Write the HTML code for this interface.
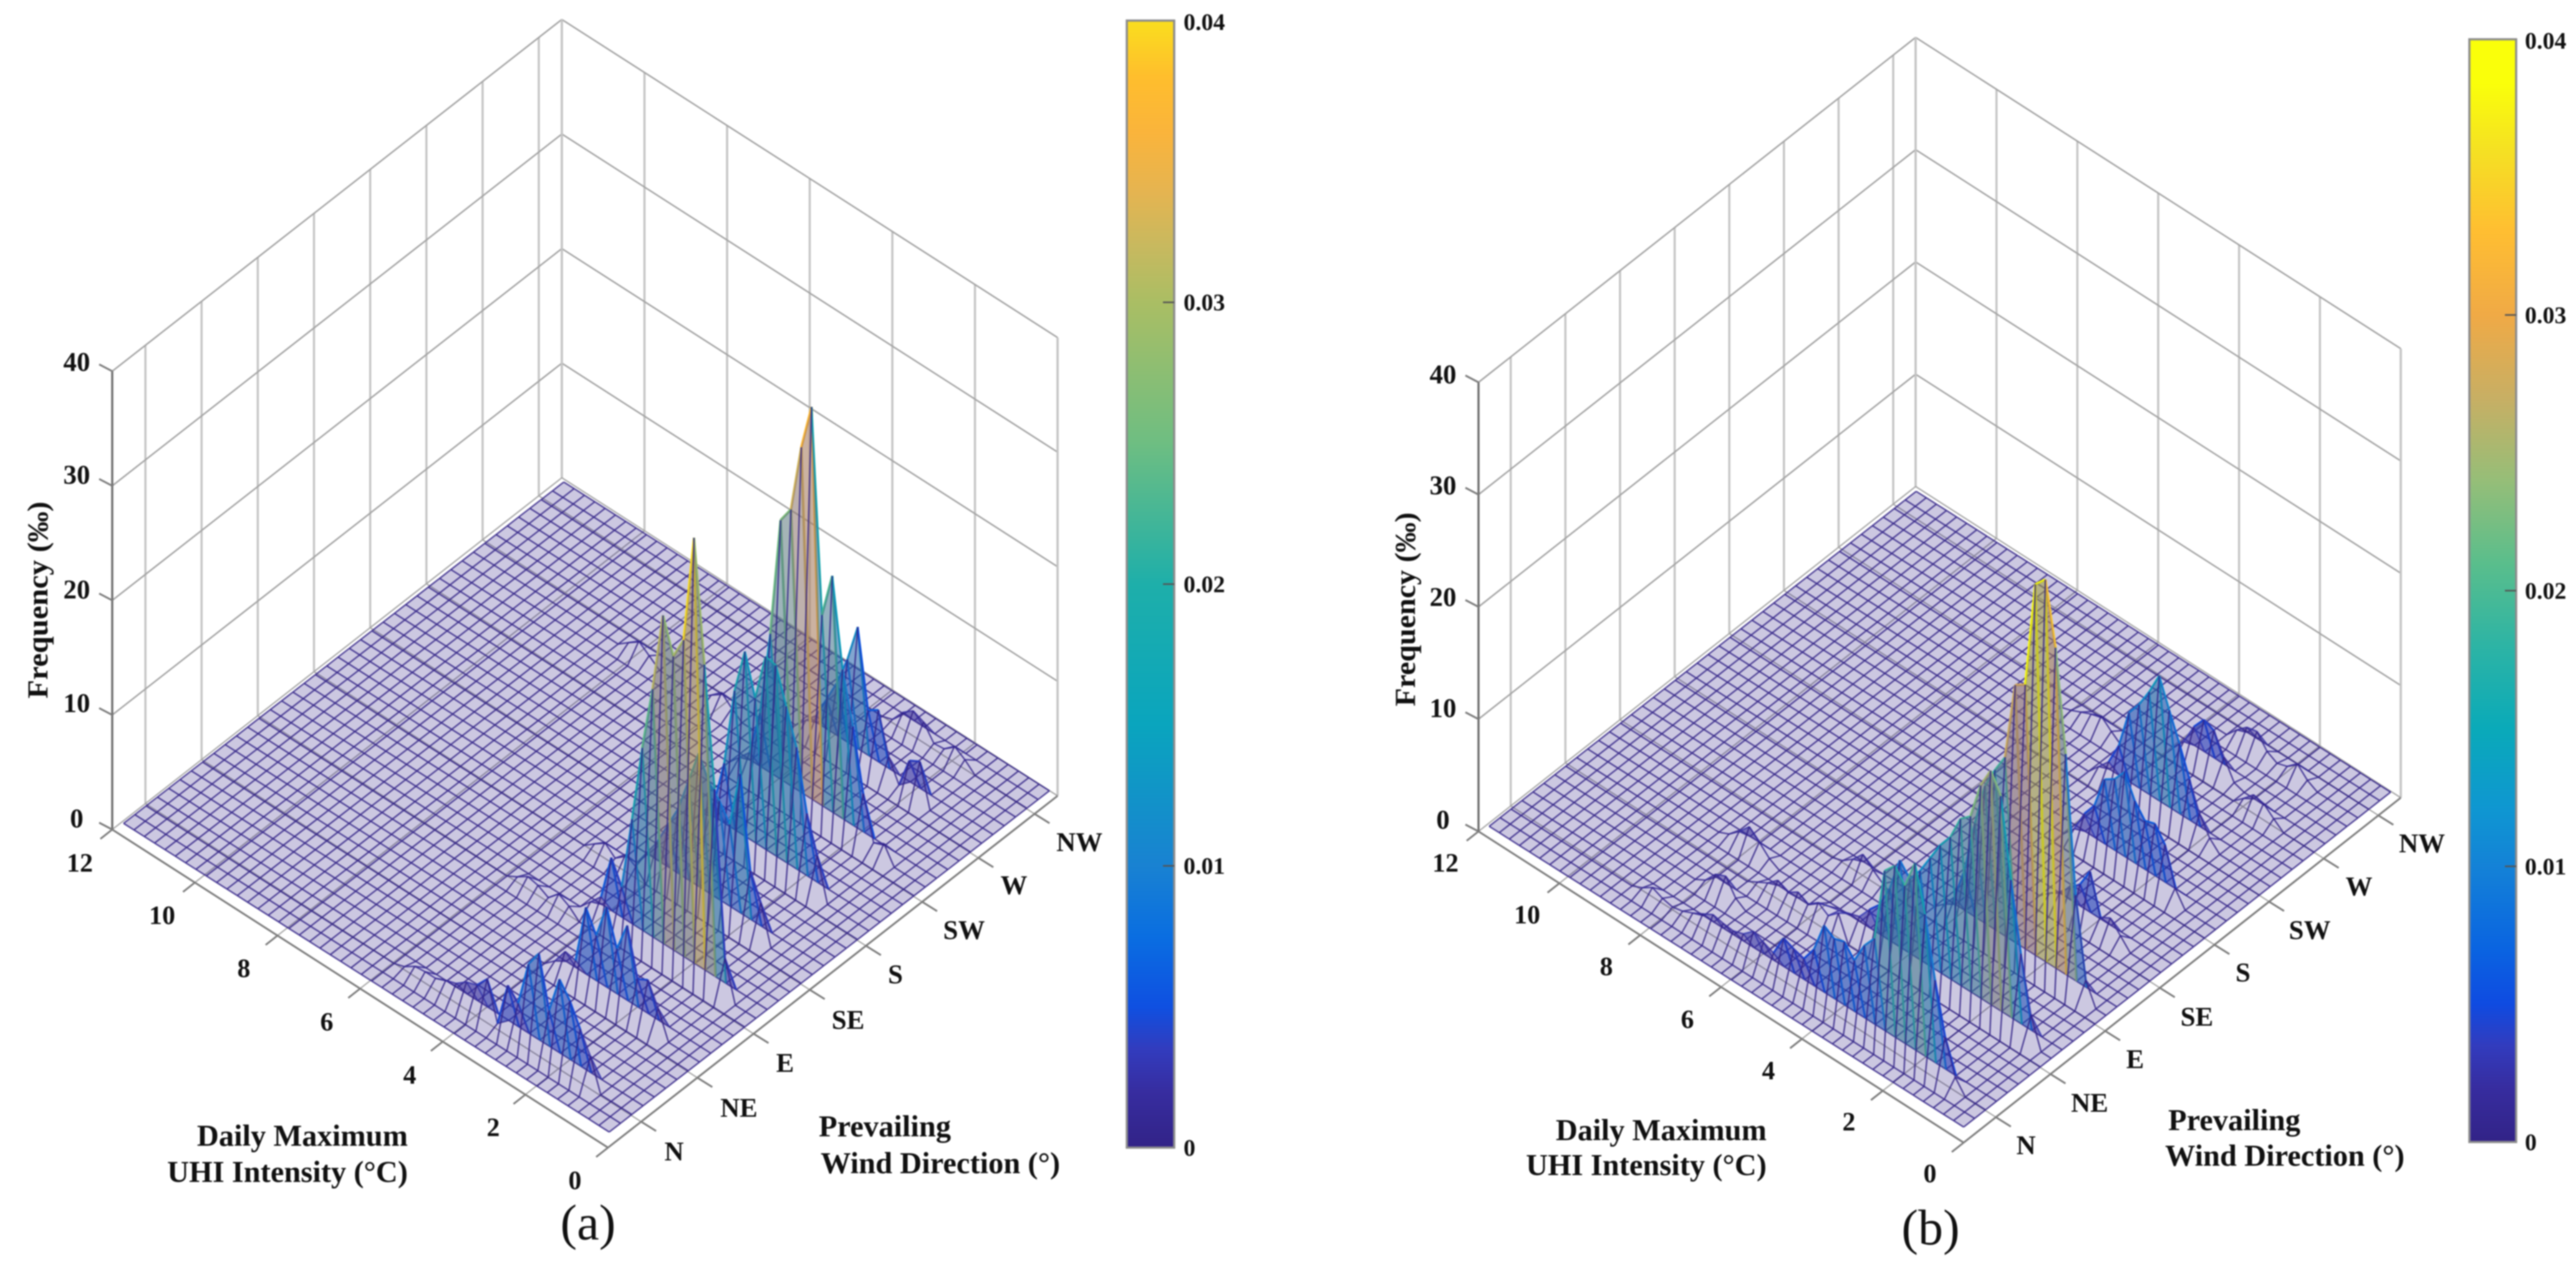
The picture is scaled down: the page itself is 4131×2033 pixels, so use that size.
<!DOCTYPE html>
<html lang="en">
<head>
<meta charset="utf-8">
<title>UHI intensity and wind direction frequency surfaces</title>
<style>
html,body{margin:0;padding:0;background:#fff;width:4131px;height:2033px;overflow:hidden}
svg{display:block;filter:blur(1px)}
text{font-family:"Liberation Serif",serif;fill:#111}
.b{font-weight:bold}
</style>
</head>
<body>
<svg id="chart" xmlns="http://www.w3.org/2000/svg" width="4131" height="2033" viewBox="0 0 4131 2033">
<rect width="4131" height="2033" fill="#fff"/>
<g id="panel-a"></g>
<g id="panel-b"></g>
<g>
<text class="b" font-size="47" text-anchor="middle" textLength="316" lengthAdjust="spacingAndGlyphs" transform="translate(76,962) rotate(-90)">Frequency (‰)</text>
<text class="b" font-size="48.5" text-anchor="end" x="654" y="1837">Daily Maximum</text>
<text class="b" font-size="48.5" text-anchor="end" x="654" y="1895">UHI Intensity (°C)</text>
<text class="b" font-size="48.5" x="1313" y="1822">Prevailing</text>
<text class="b" font-size="48.5" text-anchor="end" x="1700" y="1881">Wind Direction (°)</text>
<text font-size="80" text-anchor="middle" x="943" y="1987">(a)</text>
</g>
<g>
<text class="b" font-size="47" text-anchor="middle" textLength="311" lengthAdjust="spacingAndGlyphs" transform="translate(2269,977) rotate(-90)">Frequency (‰)</text>
<text class="b" font-size="48.5" text-anchor="end" x="2833" y="1828">Daily Maximum</text>
<text class="b" font-size="48.5" text-anchor="end" x="2833" y="1884">UHI Intensity (°C)</text>
<text class="b" font-size="48.5" x="3477" y="1812">Prevailing</text>
<text class="b" font-size="48.5" text-anchor="end" x="3856" y="1869">Wind Direction (°)</text>
<text font-size="80" text-anchor="middle" x="3096" y="1995">(b)</text>
</g>
</svg>
<script>
// Shared tick labels
const uhiTickLabels = ['0','2','4','6','8','10','12'];
const uhiTickValues = [0,2,4,6,8,10,12];
const windTickLabels = ['N','NE','E','SE','S','SW','W','NW'];
const zTickValues = [0,10,20,30,40];
const colorbarTickValues = [0,0.01,0.02,0.03,0.04];
const colorbarTickLabels = ['0','0.01','0.02','0.03','0.04'];

// Panel (a) frequency (per mille): ridge rows, one value per UHI bin (0.25 degC steps); omitted bins are 0
const aRow02 = [0,0,0,0,2.8,4.6,6.5,7.8,4.5,8.9,7.4,3.4,4.4,0.5,3.8,2.7,2.4,1.7,1.4,1,1,0.9,0.3];
const aRow08 = [0,0,0,0,2.4,4.3,3.8,7.9,5.3,8.4,5.3,7.2,2,2.2,0.8];
const aRow12 = [0,0,0,0,0,0,0,0,0,0,0,0,0,0,0,0,0,0.8,1.3,0.4,0.9,1.1,0.5];
const aRow13 = [0,0,0,3.5,17.7,28,38.5,29,27,30,23,17.3,10.5,4,6,2,1];
const aRow17 = [0,0,0,0,0,0,0,0,0,0,0,0,0,0,0,0,1,1.5,0.6,1.4,0.7];
const aRow18 = [0,0,0,0,0,3.4,5.6,13.5,8.5,10,11,13,10,7,5,3,1.5];
const aRow23 = [0,0,0,0,0,3.7,6.8,12,15,18,18.2,14,17.5,13.5,6.6,2.5,1];
const aRow28 = [0,0,0,0,1.5,1,4.7,10,14.4,22,18,35.6,31.5,25.5,24,13.5,6,2,1];
const aRow31 = [0,0,0,0,0,0,0,0,0,0,0,0,0,0,0,0,0,0,0,0,0,0,0.7,1.5,0.7,0,0,0,0,0,0.7,1.4,0.7];
const aRow33 = [0,0,0,0,0,0,3.7,3.2,0.5,2.4,5.9,5.3,12,8.6,6,4,2,1];
const aRow37 = [0,0,0,0,0,0,0.8,1.4,0.6,0.5,1.8,2.2,1.5,0.3];

// Panel (b) frequency (per mille)
const bRow02 = [0,0,0,1.2,4.2,8.7,14,18,15.4,16.6,15.6,9,7.8,5.9,7,6.7,7.3,4.6,3.2,3.5,3.9,2,2.4,2.8,2,1.7,1.8,2,1.5,1,0.6,0.4,0.6,1,0.4];
const bRow05 = [0,0,0,0,0,0,0,0,0,0,0,0,0,0,0,0,0,0,0,0,0,0,0,0,0,0,0,0,0.6,2,1.6,0.5];
const bRow07 = [0,0,0,0,0,0,0,0,0,0,0,0,0,0,0,0,0,0,0,0,2.3,1.5,2.1,1.4,1.9,1.3,1.8,1,0.5];
const bRow08 = [0,0,2.7,7.6,13.6,20.5,22.2,20.3,17,16.2,14,12.7,11,9.3,8,9.1,6,4,3,1.8,1.5,1.2,1,0.7];
const bRow09 = [0,0,0,0,0,0,0,0,0,0,0,0,0,0,0,0,0,0,0,0,0,0,0,0,0,0,0,0,0,0.5,1.4,2.2,1.2,0.4];
const bRow12 = [0,0,0,0,0,0,0,0,0,0,0,0,0,0,0,0,0,0,0,0,0,0.5,1.2,2,1,0.3];
const bRow13 = [0,0,2,9,21,29.9,35.4,34.4,24.9,24.3,17.3,15.6,13.6,9.7,5,2,0.8];
const bRow18 = [0,0,0,0,1,2,1.5,5,3.3,2.4,1.5,0.8];
const bRow23 = [0,0,0,0,1.4,4.7,6,5.7,6.9,8.9,7.7,7.1,4.2,2.9,1];
const bRow28 = [0,0,0,0,0,0,0.9,2.5,5,7.6,10,12.5,10.5,8.8,7.5,4,2,1];
const bRow31 = [0,0,0,0,0,0,0,0,0,0,0,0,0,0,0,0,0,0,0,0.7,1.5,1.1,0.7,0.3];
const bRow32 = [0,0,0,0,0.7,1.5,1.7,0.8];
const bRow33 = [0,0,0,0,0,0,0,0,0,0.3,2,3.8,4.2,3,1.1];
const bRow36 = [0,0,0,0,0,0.5,1.4,0.6,0.3,0.8,2,1.8,1];

const panelARows = {2:aRow02,8:aRow08,12:aRow12,13:aRow13,17:aRow17,18:aRow18,23:aRow23,28:aRow28,31:aRow31,33:aRow33,37:aRow37};
const panelBRows = {2:bRow02,5:bRow05,7:bRow07,8:bRow08,9:bRow09,12:bRow12,13:bRow13,18:bRow18,23:bRow23,28:bRow28,31:bRow31,32:bRow32,33:bRow33,36:bRow36};

const NS = 'http://www.w3.org/2000/svg';
const UHI_NODES = 48, WIND_NODES = 40;

const colormapA = [[0,50,35,135],[.05,55,45,160],[.0875,50,60,190],[.125,15,80,225],[.1875,10,110,225],[.25,25,130,210],[.375,10,165,190],[.5,30,175,170],[.625,110,190,130],[.75,170,190,100],[.8,200,185,95],[.85,230,180,80],[.9,250,180,60],[.95,255,190,45],[1,250,222,30]];
const colormapB = [[0,50,35,135],[.05,55,45,160],[.0875,50,60,190],[.125,15,75,225],[.175,10,100,225],[.25,20,130,215],[.3,15,150,210],[.375,10,170,185],[.45,45,180,165],[.525,90,190,140],[.6,150,190,120],[.675,200,175,100],[.75,240,170,70],[.825,255,190,50],[.9,245,225,35],[.96,250,255,10],[1,250,255,10]];

function mapColor(cm, t){
  t = Math.max(0, Math.min(1, t));
  for (let k = 1; k < cm.length; k++) {
    if (t <= cm[k][0]) {
      const a = cm[k-1], b = cm[k], f = (t - a[0]) / (b[0] - a[0]);
      return 'rgb(' + [1,2,3].map(c => Math.round(a[c] + (b[c] - a[c]) * f)).join(',') + ')';
    }
  }
  const l = cm[cm.length-1];
  return 'rgb(' + l[1] + ',' + l[2] + ',' + l[3] + ')';
}

function drawPanel(cfg){
  const root = document.getElementById(cfg.id);
  const sx = (x, y) => cfg.C[0] + (cfg.L[0]-cfg.C[0]) * x/12 + (cfg.R[0]-cfg.C[0]) * y/8;
  const sy = (x, y, z) => cfg.C[1] + (cfg.L[1]-cfg.C[1]) * x/12 + (cfg.R[1]-cfg.C[1]) * y/8 - z * cfg.zScale;

  function line(x1, y1, x2, y2, color, w, name){
    const el = document.createElementNS(NS, 'line');
    
    
    el.setAttribute('x1', x1); el.setAttribute('y1', y1);
    el.setAttribute('x2', x2); el.setAttribute('y2', y2);
    el.setAttribute('stroke', color); el.setAttribute('stroke-width', w);
    root.appendChild(el);
  }
  function label(str, x, y, size, anchor, name){
    const el = document.createElementNS(NS, 'text');
    
    
    el.setAttribute('x', x); el.setAttribute('y', y + size * 0.34);
    el.setAttribute('font-size', size);
    el.setAttribute('font-weight', 'bold');
    el.setAttribute('text-anchor', anchor);
    el.textContent = str;
    root.appendChild(el);
  }

  // walls and floor grid
  const wallV = '#c4c4c4', wallH = '#a2a2a2';
  windTickLabels.forEach((_, k) => {
    const y = k + 0.59;
    line(sx(12,y), sy(12,y,0), sx(12,y), sy(12,y,40), wallV, 3.4, 'left-wall-gridline');
    line(sx(0,y), sy(0,y,0), sx(12,y), sy(12,y,0), wallH, 2, 'floor-wind-gridline');
  });
  uhiTickValues.forEach(x => {
    if (x > 0 && x < 12) {
      line(sx(x,8), sy(x,8,0), sx(x,8), sy(x,8,40), wallV, 3.4, 'right-wall-gridline');
    }
    if (x > 0 && x < 12) {
      line(sx(x,0), sy(x,0,0), sx(x,8), sy(x,8,0), wallH, 2, 'floor-uhi-gridline');
    }
  });
  zTickValues.forEach(z => {
    if (z > 0) {
      line(sx(12,0), sy(12,0,z), sx(12,8), sy(12,8,z), wallH, 2.4, 'left-wall-z-gridline');
      line(sx(12,8), sy(12,8,z), sx(0,8), sy(0,8,z), wallH, 2.4, 'right-wall-z-gridline');
    }
  });
  line(sx(12,8), sy(12,8,0), sx(12,8), sy(12,8,40), wallV, 3.6, 'back-corner-line');
  line(sx(0,8), sy(0,8,0), sx(0,8), sy(0,8,40), wallV, 3.6, 'right-corner-line');
  line(sx(12,0), sy(12,0,0), sx(12,8), sy(12,8,0), wallH, 2, 'floor-left-back-edge');
  line(sx(12,8), sy(12,8,0), sx(0,8), sy(0,8,0), wallH, 2, 'floor-right-back-edge');

  // surface, painted back to front
  const zAt = (i, j) => { const r = cfg.rows[j]; return (r && r[i]) || 0; };
  const px = (i, j) => cfg.S0[0] + cfg.stepA[0]*i + cfg.stepB[0]*j;
  const py = (i, j) => cfg.S0[1] + cfg.stepA[1]*i + cfg.stepB[1]*j - zAt(i, j)*cfg.zScale;
  const f = v => v.toFixed(1);
  const surf = document.createElementNS(NS, 'g');
  
  
  root.appendChild(surf);
  for (let j = WIND_NODES - 1; j >= 0; j--) {
    for (let i = UHI_NODES - 1; i >= 0; i--) {
      const z = zAt(i, j);
      const col = mapColor(cfg.cmap, z / cfg.colorLimit);
      if (i < UHI_NODES - 1 && j < WIND_NODES - 1) {
        const cell = document.createElementNS(NS, 'polygon');
        
        
        cell.setAttribute('points', [[i,j],[i+1,j],[i+1,j+1],[i,j+1]].map(p => f(px(p[0],p[1])) + ',' + f(py(p[0],p[1]))).join(' '));
        cell.setAttribute('fill', col);
        cell.setAttribute('fill-opacity', z > 2 ? '0.42' : '0.25');
        surf.appendChild(cell);
      }
      let d = '';
      if (i < UHI_NODES - 1) d += 'M' + f(px(i,j)) + ' ' + f(py(i,j)) + 'L' + f(px(i+1,j)) + ' ' + f(py(i+1,j));
      if (j < WIND_NODES - 1) d += 'M' + f(px(i,j)) + ' ' + f(py(i,j)) + 'L' + f(px(i,j+1)) + ' ' + f(py(i,j+1));
      if (d) {
        const edge = document.createElementNS(NS, 'path');
        
        
        edge.setAttribute('d', d);
        edge.setAttribute('fill', 'none');
        edge.setAttribute('stroke', col);
        edge.setAttribute('stroke-width', z > 20 ? '4' : (z > 3 ? '3.2' : '2.3'));
        edge.setAttribute('stroke-opacity', z > 3 ? '1' : '0.85');
        surf.appendChild(edge);
      }
    }
  }

  // front axes
  const axisC = '#7d7d7d';
  line(sx(12,0), sy(12,0,0), sx(12,0), sy(12,0,40), '#6e6e6e', 3.4, 'z-axis-line');
  line(sx(12,0), sy(12,0,0), sx(0,0), sy(0,0,0), axisC, 3, 'uhi-axis-line');
  line(sx(0,0), sy(0,0,0), sx(0,8), sy(0,8,0), axisC, 3, 'wind-axis-line');
  uhiTickValues.forEach((x, k) => {
    line(sx(x,0), sy(x,0,0), sx(x,0)-19, sy(x,0,0)+15, axisC, 3, 'uhi-tick');
    label(uhiTickLabels[k], cfg.uhiLabels[k][0], cfg.uhiLabels[k][1], 42, 'middle', 'uhi-tick-label');
  });
  windTickLabels.forEach((t, k) => {
    const y = k + 0.59;
    line(sx(0,y), sy(0,y,0), sx(0,y)+24, sy(0,y,0)+15, axisC, 3, 'wind-tick');
    label(t, cfg.windLabels[k][0], cfg.windLabels[k][1], 43, 'middle', 'wind-tick-label');
  });
  zTickValues.forEach((z, k) => {
    line(sx(12,0), sy(12,0,z), sx(12,0)-21, sy(12,0,z)-11, axisC, 3, 'z-tick');
    label(String(z), cfg.zLabelX, cfg.zLabelY[k], 43, 'middle', 'z-tick-label');
  });

  // colorbar
  const gid = cfg.id + '-gradient';
  const defs = document.createElementNS(NS, 'defs');
  const grad = document.createElementNS(NS, 'linearGradient');
  grad.setAttribute('id', gid);
  grad.setAttribute('x1', '0'); grad.setAttribute('y1', '1');
  grad.setAttribute('x2', '0'); grad.setAttribute('y2', '0');
  cfg.cmap.forEach(s => {
    const st = document.createElementNS(NS, 'stop');
    st.setAttribute('offset', s[0]);
    st.setAttribute('stop-color', 'rgb(' + s[1] + ',' + s[2] + ',' + s[3] + ')');
    grad.appendChild(st);
  });
  defs.appendChild(grad);
  root.appendChild(defs);
  const cb = cfg.colorbar;
  const bar = document.createElementNS(NS, 'rect');
  
  
  bar.setAttribute('x', cb.x0); bar.setAttribute('y', cb.y0);
  bar.setAttribute('width', cb.x1 - cb.x0); bar.setAttribute('height', cb.y1 - cb.y0);
  bar.setAttribute('fill', 'url(#' + gid + ')');
  bar.setAttribute('stroke', '#8c8c8c');
  bar.setAttribute('stroke-width', '3.5');
  root.appendChild(bar);
  colorbarTickValues.forEach((v, k) => {
    const y = cb.y1 - (cb.y1 - cb.y0) * v / 0.04;
    if (v > 0 && v < 0.04) {
      line(cb.x1 - 18, y, cb.x1, y, '#555', 2.4, 'colorbar-tick');
    }
    label(colorbarTickLabels[k], cb.labelX, y + (k === 4 ? 2 : 0), 38, 'start', 'colorbar-tick-label');
  });
}

drawPanel({
  id:'panel-a', rows:panelARows, cmap:colormapA, colorLimit:38.5,
  C:[975,1840], L:[180,1330], R:[1696,1276], zScale:18.37,
  S0:[977,1815], stepA:[-16.57,-10.53], stepB:[18.1,-14.03],
  uhiLabels:[[922,1892],[791,1807],[657,1723],[524,1638],[391,1552],[260,1467],[128,1383]],
  windLabels:[[1081,1846],[1185,1776],[1259,1704],[1360,1635],[1436,1562],[1546,1491],[1626,1419],[1731,1350]],
  zLabelX:123, zLabelY:[1312,1127,945,761,580],
  colorbar:{x0:1807,x1:1883,y0:33,y1:1840,labelX:1898}
});
drawPanel({
  id:'panel-b', rows:panelBRows, cmap:colormapB, colorLimit:35.4,
  C:[3149,1832], L:[2371,1333], R:[3850,1279], zScale:18,
  S0:[3149,1807], stepA:[-16.19,-10.26], stepB:[17.56,-13.77],
  uhiLabels:[[3095,1881],[2965,1798],[2836,1716],[2706,1634],[2576,1549],[2449,1466],[2318,1383]],
  windLabels:[[3249,1836],[3351,1768],[3424,1698],[3523,1630],[3597,1559],[3704,1491],[3783,1421],[3884,1352]],
  zLabelX:2314, zLabelY:[1314,1135,957,778,600],
  colorbar:{x0:3960,x1:4035,y0:63,y1:1831,labelX:4049}
});
</script>
</body>
</html>
